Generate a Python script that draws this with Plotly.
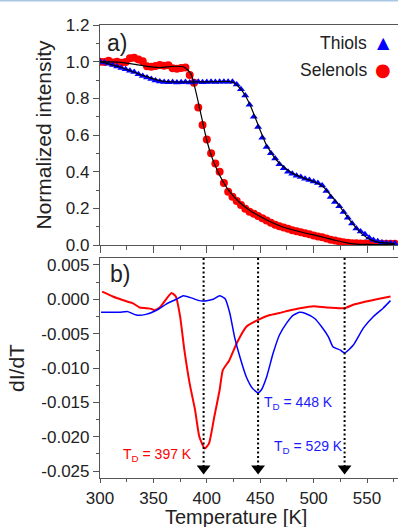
import plotly.graph_objects as go

# ---------------- data ----------------
T_thiol = list(range(300, 580, 4))
I_thiol = [1.000, 0.995, 0.988, 0.982, 0.974, 0.966, 0.958, 0.951, 0.943, 0.932,
           0.922, 0.913, 0.905, 0.897, 0.892, 0.889, 0.888, 0.889, 0.887, 0.888,
           0.889, 0.887, 0.889, 0.890, 0.888, 0.889, 0.890, 0.889, 0.890, 0.891,
           0.891, 0.890, 0.875, 0.850, 0.815, 0.765, 0.700, 0.643, 0.585, 0.535,
           0.500, 0.472, 0.440, 0.418, 0.400, 0.388, 0.378, 0.371, 0.362, 0.355,
           0.347, 0.338, 0.325, 0.295, 0.262, 0.235, 0.212, 0.180, 0.148, 0.117,
           0.090, 0.073, 0.058, 0.040, 0.027, 0.020, 0.014, 0.011, 0.009, 0.008]

T_selenol = list(range(300, 580, 4))
I_selenol = [1.000, 0.998, 1.005, 0.996, 0.999, 0.994, 0.998, 1.018, 1.022, 1.012,
             1.002, 0.975, 0.972, 0.976, 0.982, 0.978, 0.980, 0.964, 0.962, 0.965,
             0.968, 0.927, 0.885, 0.750, 0.655, 0.575, 0.500, 0.445, 0.400, 0.338,
             0.290, 0.263, 0.240, 0.218, 0.198, 0.182, 0.170, 0.158, 0.146, 0.134,
             0.122, 0.111, 0.102, 0.095, 0.088, 0.081, 0.075, 0.069, 0.064, 0.058,
             0.052, 0.047, 0.042, 0.035, 0.029, 0.024, 0.019, 0.015, 0.012, 0.010,
             0.009, 0.008, 0.008, 0.007, 0.007, 0.007, 0.007, 0.007, 0.007, 0.007]

T_fit_thiol = [300, 320, 340, 355, 365, 400, 420, 425, 430, 435, 440, 445, 450,
               455, 460, 465, 470, 480, 490, 500, 505, 510, 515, 520, 525, 530,
               535, 540, 545, 550, 555, 560, 576]
I_fit_thiol = [1.000, 0.968, 0.925, 0.898, 0.890, 0.890, 0.892, 0.886, 0.862,
               0.825, 0.770, 0.700, 0.625, 0.555, 0.505, 0.465, 0.435, 0.392,
               0.366, 0.346, 0.333, 0.312, 0.278, 0.243, 0.207, 0.167, 0.127,
               0.092, 0.062, 0.040, 0.025, 0.016, 0.008]

T_fit_selenol = [300, 320, 340, 355, 370, 379, 385, 390, 395, 400, 405, 410,
                 415, 420, 430, 440, 450, 460, 470, 480, 490, 500, 510, 520,
                 530, 540, 550, 576]
I_fit_selenol = [1.000, 0.996, 0.978, 0.968, 0.975, 0.970, 0.935, 0.830, 0.700,
                 0.570, 0.475, 0.405, 0.348, 0.302, 0.236, 0.190, 0.155, 0.125,
                 0.101, 0.083, 0.068, 0.055, 0.041, 0.026, 0.013, 0.005, 0.003,
                 0.003]

T_dsel = [302, 312, 321, 331, 337, 343, 348, 351, 356, 360, 367, 371, 375, 379,
          384, 389, 393, 398, 402, 407, 412, 415, 421, 428, 437, 448, 459, 468,
          478, 487, 500, 512, 529, 537, 547, 559, 572]
D_sel = [0.0011, 0.0004, -0.0001, -0.0006, -0.0012, -0.0013, -0.0014, -0.0016,
         -0.0012, -0.0004, 0.0009, 0.0004, -0.0025, -0.0074, -0.0123, -0.0161,
         -0.0200, -0.0217, -0.0210, -0.0171, -0.0132, -0.0103, -0.0089, -0.0064,
         -0.0040, -0.0030, -0.0023, -0.0020, -0.0016, -0.0013, -0.0010, -0.0012,
         -0.0013, -0.0008, -0.0004, 0.0000, 0.0004]

T_dthi = [301, 318, 326, 334, 343, 353, 362, 371.5, 378, 385.5, 393, 400, 406,
          412, 417, 421.5, 426, 431, 437, 443, 448, 451, 456, 462, 468, 475, 481,
          487, 493, 501, 507.5, 514, 518, 525, 529, 537, 546.5, 556, 565, 572]
D_thi = [-0.0019, -0.0019, -0.0018, -0.0023, -0.0022, -0.0016, -0.0007, 0.0000,
         0.0005, 0.0002, -0.0002, -0.0002, 0.0000, 0.0005, 0.0001, -0.0020,
         -0.0055, -0.0084, -0.0113, -0.0130, -0.0136, -0.0132, -0.0113, -0.0079,
         -0.0052, -0.0034, -0.0023, -0.0019, -0.0021, -0.0028, -0.0040, -0.0055,
         -0.0069, -0.0074, -0.0078, -0.0067, -0.0042, -0.0025, -0.0013, -0.0002]

T_D = [397, 448, 529]
TD_labels = ["T<sub>D</sub> = 397 K", "T<sub>D</sub> = 448 K", "T<sub>D</sub> = 529 K"]
TD_label_T = [354, 485.5, 495]
TD_label_y = [-0.0226, -0.0151, -0.0215]
TD_colors = ["#ff0000", "#1a1aff", "#1a1aff"]

x_ticks = [300, 350, 400, 450, 500, 550]
y1_ticks = [0.0, 0.2, 0.4, 0.6, 0.8, 1.0, 1.2]
y1_text = ["0.0", "0.2", "0.4", "0.6", "0.8", "1.0", "1.2"]
y2_ticks = [0.005, 0.0, -0.005, -0.010, -0.015, -0.020, -0.025]
y2_text = ["0.005", "0.000", "-0.005", "-0.010", "-0.015", "-0.020", "-0.025"]

# ---------------- figure ----------------
RED = "#ff0000"
BLUE = "#0000ff"
AXC = "#555555"
TXT = "#222222"
FONT = "Liberation Sans, Arial, sans-serif"

fig = go.Figure()

fig.add_trace(go.Scatter(x=T_selenol, y=I_selenol, mode="markers",
                         marker=dict(symbol="circle", size=8, color=RED),
                         xaxis="x", yaxis="y", showlegend=False))
fig.add_trace(go.Scatter(x=T_thiol, y=I_thiol, mode="markers",
                         marker=dict(symbol="triangle-up", size=7, color=BLUE),
                         xaxis="x", yaxis="y", showlegend=False))
fig.add_trace(go.Scatter(x=T_fit_selenol, y=I_fit_selenol, mode="lines",
                         line=dict(color="black", width=1.2, shape="spline", smoothing=0.6),
                         xaxis="x", yaxis="y", showlegend=False))
fig.add_trace(go.Scatter(x=T_fit_thiol, y=I_fit_thiol, mode="lines",
                         line=dict(color="black", width=1.2, shape="spline", smoothing=0.6),
                         xaxis="x", yaxis="y", showlegend=False))

fig.add_trace(go.Scatter(x=T_dsel, y=D_sel, mode="lines",
                         line=dict(color=RED, width=2, shape="spline", smoothing=0.5),
                         xaxis="x2", yaxis="y2", showlegend=False))
fig.add_trace(go.Scatter(x=T_dthi, y=D_thi, mode="lines",
                         line=dict(color=BLUE, width=1.5, shape="spline", smoothing=0.5),
                         xaxis="x2", yaxis="y2", showlegend=False))

Y2_TOP = 0.0060
Y2_BOT = -0.0260
ARROW_Y = -0.0246

for t in T_D:
    fig.add_shape(type="line", xref="x2", yref="y2", x0=t, x1=t, y0=Y2_TOP, y1=ARROW_Y,
                  line=dict(color="black", width=2, dash="2px,2.5px"))

fig.add_trace(go.Scatter(x=T_D, y=[ARROW_Y] * len(T_D), mode="markers",
                         marker=dict(symbol="triangle-down", size=12, color="black"),
                         xaxis="x2", yaxis="y2", showlegend=False))

# pixel helpers for paper coordinates
L, R, TOP, BOT = 100, 0, 25, 49
PW = 398 - L - R
PH = 527 - TOP - BOT


def xp(px):
    return (px - L) / PW


def yp(py):
    return (527 - BOT - py) / PH


annotations = []
for txt, tx, ty, c in zip(TD_labels, TD_label_T, TD_label_y, TD_colors):
    annotations.append(dict(text=txt, x=tx, y=ty, xref="x2", yref="y2",
                            showarrow=False, xanchor="center", yanchor="middle",
                            font=dict(size=14, color=c, family=FONT)))

annotations += [
    dict(text="a)", x=xp(105), y=yp(43), xref="paper", yref="paper", showarrow=False,
         xanchor="left", yanchor="middle", font=dict(size=23, color=TXT, family=FONT)),
    dict(text="b)", x=xp(108), y=yp(274), xref="paper", yref="paper", showarrow=False,
         xanchor="left", yanchor="middle", font=dict(size=23, color=TXT, family=FONT)),
    dict(text="Thiols", x=xp(369), y=yp(43), xref="paper", yref="paper", showarrow=False,
         xanchor="right", yanchor="middle", font=dict(size=17.5, color=TXT, family=FONT)),
    dict(text="Selenols", x=xp(369), y=yp(70), xref="paper", yref="paper", showarrow=False,
         xanchor="right", yanchor="middle", font=dict(size=17.5, color=TXT, family=FONT)),
    dict(text="▲", x=xp(383), y=yp(43), xref="paper", yref="paper", showarrow=False,
         xanchor="center", yanchor="middle", font=dict(size=16, color=BLUE, family="DejaVu Sans")),
    dict(text="●", x=xp(383), y=yp(70), xref="paper", yref="paper", showarrow=False,
         xanchor="center", yanchor="middle", font=dict(size=18, color=RED, family="DejaVu Sans")),
    # x-axis title placed explicitly so it clears the tick labels
    dict(text="Temperature [K]", x=xp(236), y=yp(517), xref="paper", yref="paper",
         showarrow=False, xanchor="center", yanchor="middle",
         font=dict(size=20, color=TXT, family=FONT)),
]

x_common = dict(range=[300, 579], tickvals=x_ticks, ticks="outside",
                tickwidth=1.2, tickcolor=AXC, showline=True, linecolor=AXC, linewidth=1.2,
                mirror=True, showgrid=False, zeroline=False,
                tickfont=dict(size=17, color=TXT, family=FONT))

y_common = dict(ticks="outside", ticklen=6, tickwidth=1.2, tickcolor=AXC,
                showline=True, linecolor=AXC, linewidth=1.2, mirror=False,
                showgrid=False, zeroline=False,
                tickfont=dict(size=17, color=TXT, family=FONT))

fig.update_layout(
    width=398, height=527,
    margin=dict(l=L, r=R, t=TOP, b=BOT),
    paper_bgcolor="white", plot_bgcolor="white",
    font=dict(family=FONT, color=TXT),
    showlegend=False,
    xaxis=dict(**x_common, domain=[0, 1], anchor="y", showticklabels=False, ticklen=7,
               minor=dict(dtick=25, tick0=300, ticks="outside", ticklen=4,
                          tickwidth=1.2, tickcolor=AXC, showgrid=False)),
    yaxis=dict(**y_common, domain=[yp(245), 1], range=[0, 1.2],
               tickvals=y1_ticks, ticktext=y1_text,
               minor=dict(dtick=0.1, tick0=0, ticks="outside", ticklen=3,
                          tickwidth=1.2, tickcolor=AXC, showgrid=False),
               title=dict(text="Normalized intensity", standoff=8,
                          font=dict(size=21, color=TXT, family=FONT))),
    xaxis2=dict(**x_common, domain=[0, 1], anchor="y2", showticklabels=True, ticklen=4,
                minor=dict(dtick=25, tick0=300, ticks="outside", ticklen=2.5,
                           tickwidth=1.2, tickcolor=AXC, showgrid=False)),
    yaxis2=dict(**y_common, domain=[0, yp(258)], range=[Y2_BOT, Y2_TOP],
                tickvals=y2_ticks, ticktext=y2_text,
                minor=dict(dtick=0.0025, tick0=0, ticks="outside", ticklen=3,
                           tickwidth=1.2, tickcolor=AXC, showgrid=False),
                title=dict(text="dI/dT", standoff=10,
                           font=dict(size=21, color=TXT, family=FONT))),
    annotations=annotations,
)

# thin light-blue strip at the very top of the picture
fig.add_shape(type="line", xref="paper", yref="paper", x0=xp(0), x1=1.0,
              y0=yp(0.7), y1=yp(0.7), line=dict(color="#a9c6e3", width=1.5))

fig.write_html("out.html")
